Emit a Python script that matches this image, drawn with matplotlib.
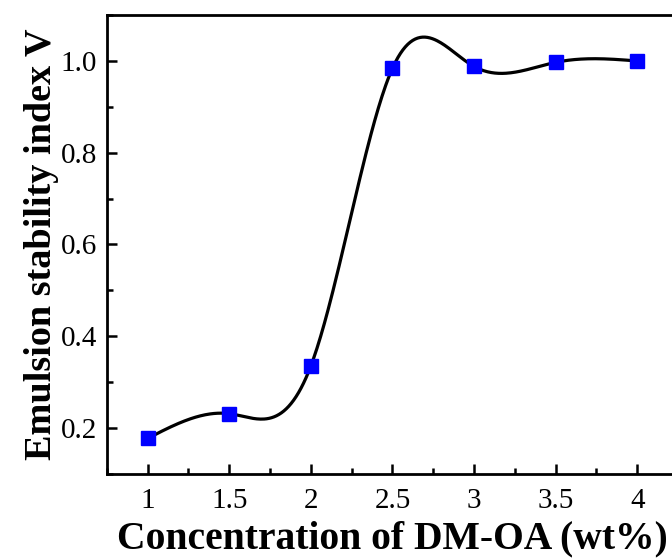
import numpy as np
import matplotlib
matplotlib.use("Agg")
import matplotlib.pyplot as plt
from matplotlib.ticker import MultipleLocator

conc = [1, 1.5, 2, 2.5, 3, 3.5, 4]
esi = [0.177, 0.231, 0.335, 0.984, 0.988, 0.997, 1.0]


def natural_spline(x, y, n=400):
    # plain natural cubic spline, like Origin's spline connect
    x = np.asarray(x, float)
    y = np.asarray(y, float)
    m = len(x)
    h = np.diff(x)
    A = np.zeros((m, m))
    b = np.zeros(m)
    A[0, 0] = 1
    A[-1, -1] = 1
    for i in range(1, m - 1):
        A[i, i - 1] = h[i - 1]
        A[i, i] = 2 * (h[i - 1] + h[i])
        A[i, i + 1] = h[i]
        b[i] = 3 * ((y[i + 1] - y[i]) / h[i] - (y[i] - y[i - 1]) / h[i - 1])
    c = np.linalg.solve(A, b)
    xs = np.linspace(x[0], x[-1], n)
    ys = np.zeros_like(xs)
    for k, xv in enumerate(xs):
        i = min(np.searchsorted(x, xv, side="right") - 1, m - 2)
        d = (c[i + 1] - c[i]) / (3 * h[i])
        bb = (y[i + 1] - y[i]) / h[i] - h[i] * (2 * c[i] + c[i + 1]) / 3
        t = xv - x[i]
        ys[k] = y[i] + bb * t + c[i] * t ** 2 + d * t ** 3
    return xs, ys


plt.rcParams['font.family'] = ['Liberation Serif', 'DejaVu Serif']

fig = plt.figure(figsize=(6.72, 5.6), dpi=100)
ax = fig.add_axes([0.159, 0.154, 0.85, 0.819])

xs, ys = natural_spline(conc, esi)
ax.plot(xs, ys, color='black', lw=2.3, zorder=2)
ax.plot(conc, esi, 's', color='#0000ff', ms=9.5, zorder=3)

ax.set_xlim(0.75, 4.25)
ax.set_ylim(0.1, 1.1)
ax.set_xticks(conc)
ax.set_xticklabels(['1', '1.5', '2', '2.5', '3', '3.5', '4'])
ax.set_yticks([0.2, 0.4, 0.6, 0.8, 1.0])
ax.xaxis.set_minor_locator(MultipleLocator(0.25))
ax.yaxis.set_minor_locator(MultipleLocator(0.1))
ax.tick_params(which='both', direction='in', width=1.8, labelsize=21)
ax.tick_params(which='major', length=7)
ax.tick_params(which='minor', length=4)
ax.tick_params(axis='x', pad=10)
ax.tick_params(axis='y', pad=7)
for s in ax.spines.values():
    s.set_linewidth(2)

ax.set_xlabel('Concentration of DM-OA (wt%)', fontsize=28.5, fontweight='bold', labelpad=5)
ax.set_ylabel('Emulsion stability index V', fontsize=27.5, fontweight='bold', labelpad=1)

fig.savefig('out.png', dpi=100)
